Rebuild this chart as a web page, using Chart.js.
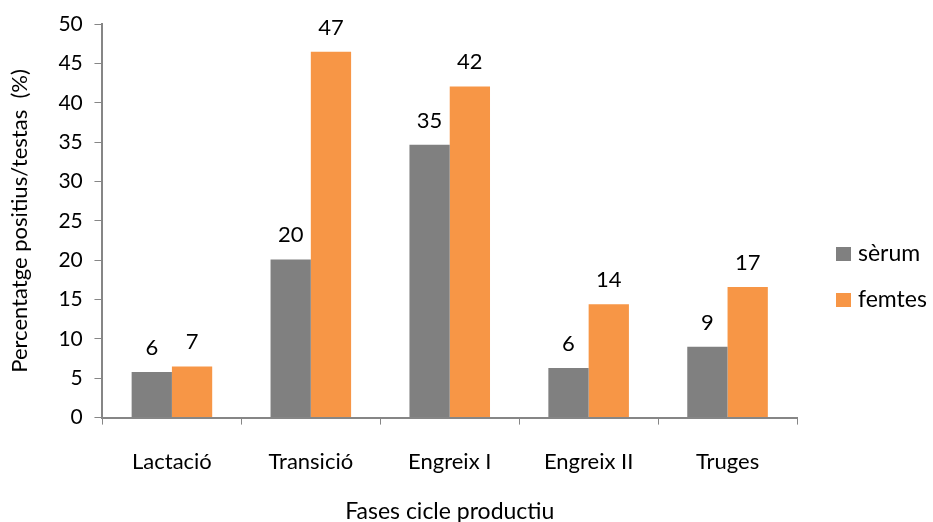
<!DOCTYPE html>
<html>
<head>
<meta charset="utf-8">
<script src="https://cdn.jsdelivr.net/npm/chart.js@4.4.0/dist/chart.umd.min.js"></script>
<style>
  html, body { margin: 0; padding: 0; background: #fff; }
</style>
</head>
<body>
<canvas id="faseChart" width="933" height="522"></canvas>
<script>
const fases = ['Lactació', 'Transició', 'Engreix I', 'Engreix II', 'Truges'];
const serum = [5.8, 20.1, 34.7, 6.3, 9.0];
const femtes = [6.5, 46.5, 42.1, 14.4, 16.6];
const serieNames = ['sèrum', 'femtes'];
const yMin = 0, yMax = 50, yStep = 5;

const FONT = 'Lato, "Open Sans", sans-serif';
const AXIS_GREY = '#868686';

// numbers above each bar (rounded value)
const valueLabels = {
    id: 'valueLabels',
    afterDatasetsDraw(chart) {
        const ctx = chart.ctx;
        ctx.save();
        ctx.font = '22px ' + FONT;
        ctx.fillStyle = '#000';
        ctx.textAlign = 'center';
        ctx.textBaseline = 'alphabetic';
        chart.data.datasets.forEach((ds, i) => {
            chart.getDatasetMeta(i).data.forEach((bar, j) => {
                ctx.fillText(String(Math.round(ds.data[j])), bar.x, bar.y - 17);
            });
        });
        ctx.restore();
    }
};

// legend on the right side, square + name
const sideLegend = {
    id: 'sideLegend',
    afterDraw(chart) {
        const ctx = chart.ctx;
        const x = chart.chartArea.right + 39;
        let y = chart.height / 2 - 7;
        ctx.save();
        ctx.font = '23px ' + FONT;
        ctx.textAlign = 'left';
        ctx.textBaseline = 'middle';
        chart.data.datasets.forEach(ds => {
            ctx.fillStyle = ds.backgroundColor;
            ctx.fillRect(x, y - 7, 15, 14);
            ctx.fillStyle = '#000';
            ctx.fillText(ds.label, x + 22, y);
            y += 46;
        });
        ctx.restore();
    }
};

const ctx = document.getElementById('faseChart').getContext('2d');

const barChart = new Chart(ctx, {
    type: 'bar',
    data: {
        labels: fases,
        datasets: [{
            label: serieNames[0],
            data: serum,
            backgroundColor: '#808080'
        },
        {
            label: serieNames[1],
            data: femtes,
            backgroundColor: '#F79646'
        }]
    },
    options: {
        responsive: false,
        animation: false,
        layout: {
            padding: { top: 0, right: 136, bottom: 0, left: 0 }
        },
        datasets: {
            bar: {
                categoryPercentage: 0.58,
                barPercentage: 1.0
            }
        },
        plugins: {
            legend: { display: false },
            tooltip: { enabled: false }
        },
        scales: {
            x: {
                grid: {
                    offset: true,
                    drawOnChartArea: false,
                    tickLength: 7,
                    color: AXIS_GREY
                },
                border: { color: AXIS_GREY, width: 2 },
                ticks: {
                    color: '#000',
                    padding: 24,
                    font: { family: FONT, size: 22 }
                },
                title: {
                    display: true,
                    text: 'Fases cicle productiu',
                    color: '#000',
                    font: { family: FONT, size: 23, lineHeight: 1 },
                    padding: { top: 1, bottom: -1 }
                }
            },
            y: {
                min: yMin,
                max: yMax,
                grid: {
                    drawOnChartArea: false,
                    tickLength: 8,
                    color: AXIS_GREY
                },
                border: { color: AXIS_GREY, width: 2 },
                ticks: {
                    stepSize: yStep,
                    color: '#000',
                    padding: 11.7,
                    font: { family: FONT, size: 21 }
                },
                title: {
                    display: true,
                    text: 'Percentatge positius/testas  (%)',
                    color: '#000',
                    font: { family: FONT, size: 22 },
                    padding: { top: 7, bottom: 13.3 }
                }
            }
        }
    },
    plugins: [valueLabels, sideLegend]
});
</script>
</body>
</html>
